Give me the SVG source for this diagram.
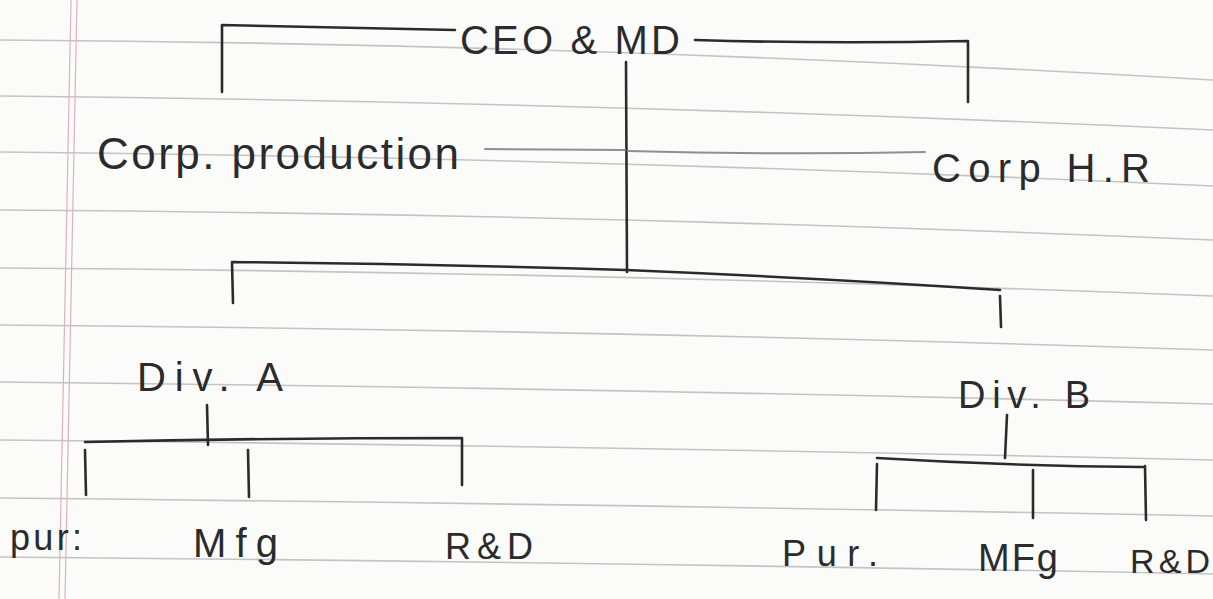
<svg xmlns="http://www.w3.org/2000/svg" width="1213" height="599" viewBox="0 0 1213 599">
  <style>
    .paper { fill: #fbfbfa; }
    .rule { fill: none; stroke: #c4c4c6; stroke-width: 1.6; }
    .margin { fill: none; stroke: #dcb2bf; stroke-width: 1.2; }
    .ink { fill: none; stroke: #2b2b2d; stroke-width: 2.6; stroke-linecap: round; stroke-linejoin: round; }
    .faint { fill: none; stroke: #8e8f93; stroke-width: 2; stroke-linecap: round; }
    .label { font-family: "Liberation Sans", "DejaVu Sans", sans-serif; fill: #2b2b2d; font-weight: normal; }
  </style>

  <!-- notebook page -->
  <rect class="paper" x="0" y="0" width="1213" height="599"/>
  <g id="page-rules">
    <path class="rule" d="M0 40 Q600 44 1213 80"/>
    <path class="rule" d="M0 96 Q600 102 1213 130"/>
    <path class="rule" d="M0 152 Q600 158 1213 186"/>
    <path class="rule" d="M0 210 Q600 214 1213 240"/>
    <path class="rule" d="M0 268 Q600 272 1213 296"/>
    <path class="rule" d="M0 325 Q600 330 1213 350"/>
    <path class="rule" d="M0 382 Q600 388 1213 404"/>
    <path class="rule" d="M0 440 Q600 446 1213 460"/>
    <path class="rule" d="M0 498 Q600 504 1213 516"/>
    <path class="rule" d="M0 557 Q600 562 1213 574"/>
    <path class="margin" d="M71 0 L59 599"/>
    <path class="margin" d="M77 0 L65 599"/>
  </g>

  <!-- reporting lines -->
  <g id="connectors">
    <path class="ink" d="M222 92 L222 25 Q340 28 455 30"/>
    <path class="ink" d="M695 40 Q830 44 968 41 L968 102"/>
    <path class="ink" d="M626 62 L627 272"/>
    <path class="faint" d="M485 149 L625 150"/>
    <path class="faint" d="M628 151 Q780 155 925 152"/>
    <path class="ink" d="M233 303 L232 262 Q430 264 626 270 Q820 278 1000 290"/>
    <path class="ink" d="M1000 296 L1001 327"/>
    <path class="ink" d="M207 405 L208 445"/>
    <path class="ink" d="M85 442 Q270 438 462 438 L462 485"/>
    <path class="ink" d="M85 450 L86 495"/>
    <path class="ink" d="M248 450 L249 497"/>
    <path class="ink" d="M1007 415 L1005 458"/>
    <path class="ink" d="M877 458 Q1010 466 1143 467"/>
    <path class="ink" d="M877 464 L876 510"/>
    <path class="ink" d="M1033 470 L1033 518"/>
    <path class="ink" d="M1145 466 L1146 520"/>
  </g>

  <g id="ceo-md"><text class="label" x="460" y="54" font-size="40" textLength="220" lengthAdjust="spacing">CEO &amp; MD</text></g>
  <g id="corp-production"><text class="label" x="97" y="169" font-size="44" textLength="362" lengthAdjust="spacing">Corp. production</text></g>
  <g id="corp-hr"><text class="label" x="932" y="182" font-size="40" textLength="218" lengthAdjust="spacing">Corp H.R</text></g>
  <g id="div-a"><text class="label" x="137" y="391" font-size="40" textLength="146" lengthAdjust="spacing">Div. A</text></g>
  <g id="div-b"><text class="label" x="958" y="408" font-size="38" textLength="132" lengthAdjust="spacing">Div. B</text></g>
  <g id="a-pur"><text class="label" x="10" y="550" font-size="36" textLength="72" lengthAdjust="spacing">pur:</text></g>
  <g id="a-mfg"><text class="label" x="193" y="557" font-size="40" textLength="85" lengthAdjust="spacing">Mfg</text></g>
  <g id="a-rnd"><text class="label" x="445" y="559" font-size="36" textLength="88" lengthAdjust="spacing">R&amp;D</text></g>
  <g id="b-pur"><text class="label" x="782" y="566" font-size="36" textLength="96" lengthAdjust="spacing">Pur.</text></g>
  <g id="b-mfg"><text class="label" x="978" y="571" font-size="38" textLength="80" lengthAdjust="spacing">MFg</text></g>
  <g id="b-rnd"><text class="label" x="1130" y="573" font-size="34" textLength="80" lengthAdjust="spacing">R&amp;D</text></g>
</svg>
